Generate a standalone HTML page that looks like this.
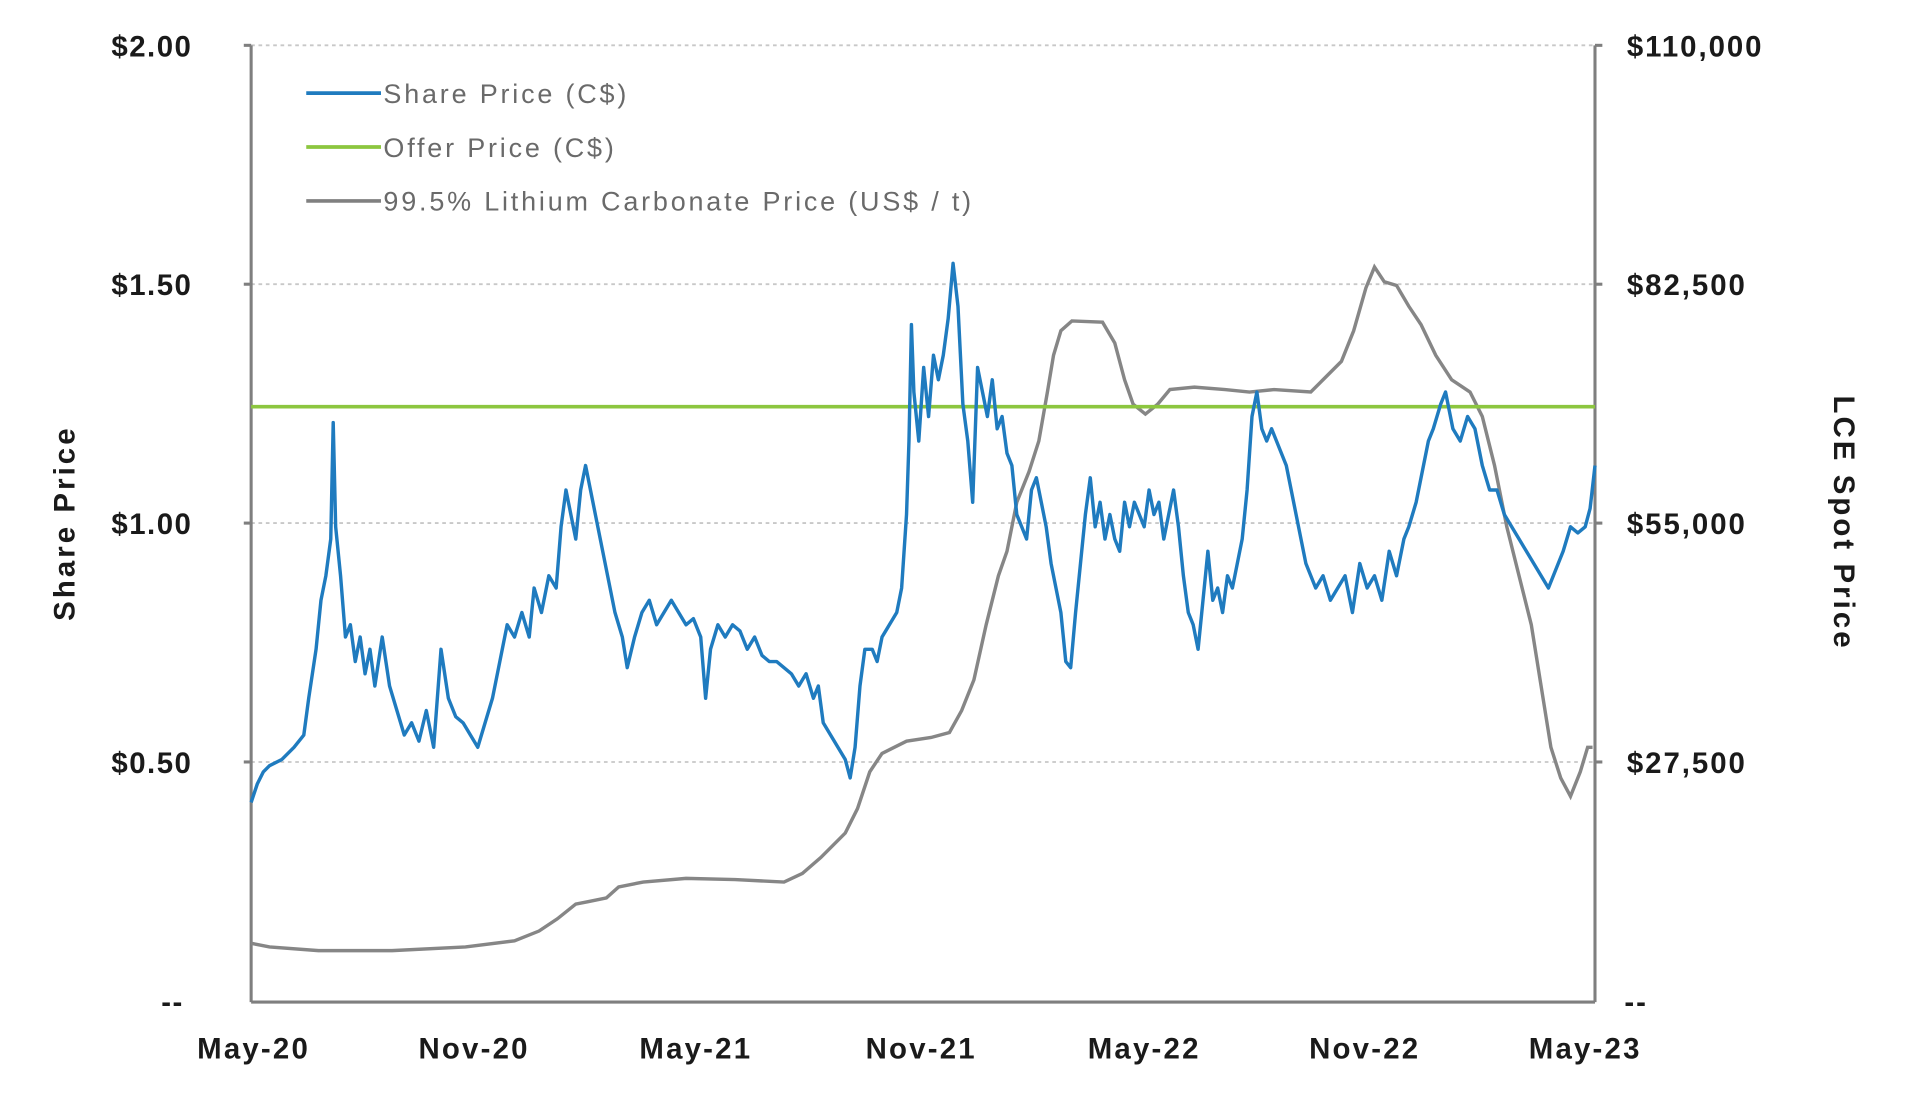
<!DOCTYPE html>
<html><head><meta charset="utf-8"><style>
html,body{margin:0;padding:0;background:#fff;width:1920px;height:1105px;overflow:hidden}
svg{display:block}
text{font-family:"Liberation Sans",Arial,sans-serif}
</style></head><body>
<svg width="1920" height="1105" viewBox="0 0 1567.3 902" xmlns="http://www.w3.org/2000/svg">
<g stroke="#c8c8c8" stroke-width="1.5" stroke-dasharray="3,3">
<line x1="205" y1="37" x2="1302" y2="37"/>
<line x1="205" y1="232" x2="1302" y2="232"/>
<line x1="205" y1="427" x2="1302" y2="427"/>
<line x1="205" y1="622" x2="1302" y2="622"/>
</g>
<g stroke="#7f7f7f" stroke-width="2.5" fill="none">
<line x1="205" y1="37" x2="205" y2="818"/>
<line x1="1302" y1="37" x2="1302" y2="818"/>
<line x1="205" y1="818" x2="1302" y2="818"/>
<line x1="199" y1="37" x2="205" y2="37"/><line x1="199" y1="232" x2="205" y2="232"/><line x1="199" y1="427" x2="205" y2="427"/><line x1="199" y1="622" x2="205" y2="622"/>
<line x1="1302" y1="37" x2="1308" y2="37"/><line x1="1302" y1="232" x2="1308" y2="232"/><line x1="1302" y1="427" x2="1308" y2="427"/><line x1="1302" y1="622" x2="1308" y2="622"/>
</g>
<g font-size="24" font-weight="bold" fill="#1a1a1a" text-anchor="end" letter-spacing="1.2">
<text x="157" y="46">$2.00</text><text x="157" y="241">$1.50</text><text x="157" y="436">$1.00</text><text x="157" y="631">$0.50</text><text x="150" y="826">--</text>
</g>
<g font-size="24" font-weight="bold" fill="#1a1a1a" letter-spacing="1.6">
<text x="1328" y="46">$110,000</text><text x="1328" y="241">$82,500</text><text x="1328" y="436">$55,000</text><text x="1328" y="631">$27,500</text><text x="1326" y="826">--</text>
</g>
<g font-size="24" font-weight="bold" fill="#1a1a1a" text-anchor="middle" letter-spacing="1.8">
<text x="207" y="864">May-20</text><text x="387" y="864">Nov-20</text><text x="568" y="864">May-21</text><text x="752" y="864">Nov-21</text><text x="934" y="864">May-22</text><text x="1114" y="864">Nov-22</text><text x="1294" y="864">May-23</text>
</g>
<text font-size="24" font-weight="bold" fill="#1a1a1a" text-anchor="middle" letter-spacing="2.5" transform="translate(61,427) rotate(-90)">Share Price</text>
<text font-size="24" font-weight="bold" fill="#1a1a1a" text-anchor="middle" letter-spacing="2.5" transform="translate(1497,427) rotate(90)">LCE Spot Price</text>
<g font-size="22" fill="#6a6a6a" letter-spacing="2.3">
<line x1="250" y1="76" x2="311" y2="76" stroke="#1f7bbf" stroke-width="3"/><text x="313" y="84">Share Price (C$)</text>
<line x1="250" y1="120" x2="311" y2="120" stroke="#8cc63f" stroke-width="3"/><text x="313" y="128">Offer Price (C$)</text>
<line x1="250" y1="164" x2="311" y2="164" stroke="#808080" stroke-width="3"/><text x="313" y="172">99.5% Lithium Carbonate Price (US$ / t)</text>
</g>
<polyline fill="none" stroke="#868686" stroke-width="2.8" points="205,770 220,773 260,776 320,776 380,773 420,768 440,760 455,750 470,738 480,736 495,733 505,724 525,720 560,717 600,718 640,720 655,713 670,700 690,680 700,660 710,630 720,615 740,605 760,602 775,598 785,580 795,555 805,510 815,470 822,450 830,410 840,385 848,360 855,320 860,290 866,270 875,262 900,263 910,280 918,310 925,330 935,338 945,330 955,318 975,316 1000,318 1020,320 1040,318 1070,320 1080,310 1095,295 1105,270 1115,235 1122,218 1130,230 1140,233 1150,250 1160,265 1172,290 1185,310 1200,320 1210,340 1220,380 1230,430 1240,470 1250,510 1258,560 1266,610 1274,635 1282,650 1290,630 1296,610 1300,610"/>
<line x1="205" y1="332" x2="1302" y2="332" stroke="#8cc63f" stroke-width="3"/>
<polyline fill="none" stroke="#1f7bbf" stroke-width="2.8" stroke-linejoin="round" points="205,655 210,640 215,630 220,625 230,620 240,610 248,600 252,570 258,530 262,490 266,470 270,440 272,345 274,430 278,470 282,520 286,510 290,540 294,520 298,550 302,530 306,560 312,520 318,560 324,580 330,600 336,590 342,605 348,580 354,610 360,530 366,570 372,585 378,590 384,600 390,610 396,590 402,570 408,540 414,510 420,520 426,500 432,520 436,480 442,500 448,470 454,480 458,430 462,400 466,420 470,440 474,400 478,380 482,400 486,420 490,440 496,470 502,500 508,520 512,545 518,520 524,500 530,490 536,510 542,500 548,490 554,500 560,510 566,505 572,520 576,570 580,530 586,510 592,520 598,510 604,515 610,530 616,520 622,535 628,540 634,540 640,545 646,550 652,560 658,550 664,570 668,560 672,590 678,600 684,610 690,620 694,635 698,610 702,560 706,530 712,530 716,540 720,520 726,510 732,500 736,480 740,420 742,360 744,265 746,320 750,360 754,300 758,340 762,290 766,310 770,290 774,260 778,215 782,250 786,330 790,360 794,410 798,300 802,320 806,340 810,310 814,350 818,340 822,370 826,380 830,420 834,430 838,440 842,400 846,390 850,410 854,430 858,460 862,480 866,500 870,540 874,545 878,500 882,460 886,420 890,390 894,430 898,410 902,440 906,420 910,440 914,450 918,410 922,430 926,410 930,420 934,430 938,400 942,420 946,410 950,440 954,420 958,400 962,430 966,470 970,500 974,510 978,530 982,490 986,450 990,490 994,480 998,500 1002,470 1006,480 1010,460 1014,440 1018,400 1022,340 1026,320 1030,350 1034,360 1038,350 1042,360 1046,370 1050,380 1054,400 1058,420 1062,440 1066,460 1070,470 1074,480 1080,470 1086,490 1092,480 1098,470 1104,500 1110,460 1116,480 1122,470 1128,490 1134,450 1140,470 1146,440 1150,430 1156,410 1160,390 1166,360 1170,350 1176,330 1180,320 1186,350 1192,360 1198,340 1204,350 1210,380 1216,400 1222,400 1228,420 1234,430 1240,440 1246,450 1252,460 1258,470 1264,480 1268,470 1272,460 1276,450 1282,430 1288,435 1294,430 1298,415 1302,380"/>
</svg>
</body></html>
